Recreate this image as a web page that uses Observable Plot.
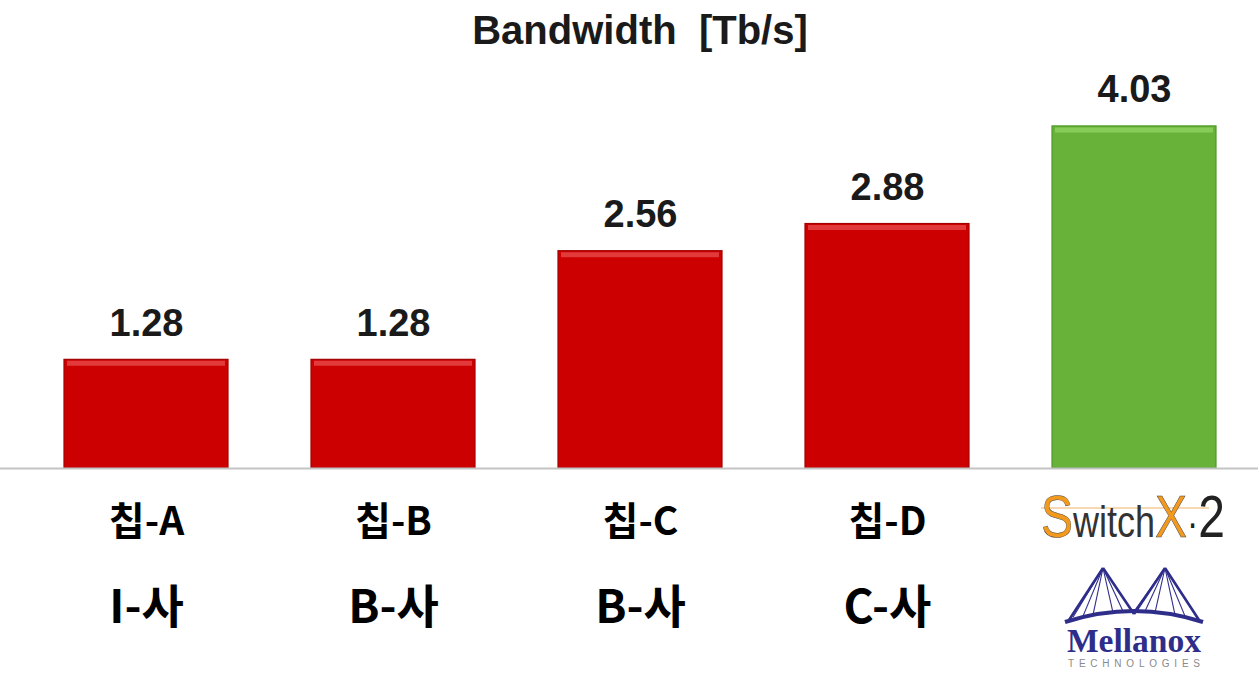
<!DOCTYPE html>
<html>
<head>
<meta charset="utf-8">
<script src="https://cdn.jsdelivr.net/npm/d3@7"></script>
<script src="https://cdn.jsdelivr.net/npm/@observablehq/plot@0.6"></script>
<style>
  body { margin: 0; background: #fff; }
  #wrap { position: relative; width: 1258px; height: 675px; overflow: hidden; background: #fff; }
  #title { height: 60px; box-sizing: border-box; padding-top: 10px; text-align: center;
           font-family: "Liberation Sans", Arial, sans-serif; font-weight: bold; font-size: 40px;
           line-height: 40px; color: #1a1a1a; padding-left: 22px; white-space: pre; }
  .ovl { position: absolute; overflow: visible; }
</style>
</head>
<body>
<div id="wrap">
  <div id="title">Bandwidth  [Tb/s]</div>
  <div id="chart"></div>
</div>
<script>
const chips = ["칩-A", "칩-B", "칩-C", "칩-D", "SwitchX-2"];
const vendors = ["I-사", "B-사", "B-사", "C-사", "Mellanox"];
const bandwidth = [1.28, 1.28, 2.56, 2.88, 4.03];
const valueLabels = ["1.28", "1.28", "2.56", "2.88", "4.03"];
const barColors = ["#cc0000", "#cc0000", "#cc0000", "#cc0000", "#68b23a"];
const barEdges = ["#a30000", "#a30000", "#a30000", "#a30000", "#4f9a2a"];
const barHighlights = ["#e23a3a", "#e23a3a", "#e23a3a", "#e23a3a", "#86cc58"];

const data = chips.map((c, i) => ({
  chip: c, vendor: vendors[i], value: bandwidth[i], label: valueLabels[i],
  fill: barColors[i], edge: barEdges[i], hi: barHighlights[i], korean: i < 4
}));
const kData = data.filter(d => d.korean);

const chart = Plot.plot({
  width: 1258,
  height: 615,
  marginLeft: 21,
  marginRight: 0,
  marginTop: 26,
  marginBottom: 207,
  x: { domain: chips, paddingInner: 0.337, paddingOuter: 0.1685, axis: null },
  y: { domain: [0, 4.5], axis: null },
  marks: [
    Plot.barY(data, { x: "chip", y: "value", fill: d => d.fill, stroke: d => d.edge, strokeWidth: 1.2 }),
    Plot.tickY(data, { x: "chip", y: "value", stroke: d => d.hi, strokeWidth: 5, dy: 3.5, inset: 3 }),
    Plot.ruleY([0], { stroke: "#c4c4c4", strokeWidth: 2, insetLeft: -21 }),
    Plot.text(data, { x: "chip", y: "value", text: "label", lineAnchor: "bottom", dy: -24,
      fontFamily: "Liberation Sans, Arial, sans-serif", fontWeight: "bold", fontSize: 38, fill: "#1a1a1a" }),
    Plot.text(kData, { x: "chip", text: "chip", frameAnchor: "bottom", lineAnchor: "bottom", dy: 66,
      fontFamily: "Noto Sans CJK KR, sans-serif", fontWeight: "bold", fontSize: 39, fill: "#000" }),
    Plot.text(kData, { x: "chip", text: "vendor", frameAnchor: "bottom", lineAnchor: "bottom", dy: 154,
      fontFamily: "Noto Sans CJK KR, sans-serif", fontWeight: "bold", fontSize: 46, fill: "#000" })
  ],
  style: { background: "transparent", overflow: "visible" }
});
document.getElementById("chart").appendChild(chart);

// Logos for the last category, positioned with the chart's x scale
const xs = chart.scale("x");
const cx = xs.apply(chips[4]) + xs.bandwidth / 2;
const wrap = document.getElementById("wrap");
const NS = "http://www.w3.org/2000/svg";

// SwitchX·2 word mark (single text run, horizontally condensed)
const sw = document.createElementNS(NS, "svg");
sw.setAttribute("class", "ovl");
sw.setAttribute("width", 200); sw.setAttribute("height", 70);
sw.style.left = (cx - 97) + "px"; sw.style.top = "480px";
sw.innerHTML = `
  <line x1="4" y1="28" x2="172" y2="28" stroke="#e8a040" stroke-width="0.8"/>
  <g transform="scale(0.8,1)">
  <text x="5" y="57" font-family="Liberation Sans, sans-serif" font-size="60"><tspan fill="#f39a1e" stroke="#444" stroke-width="0.5">S</tspan><tspan fill="#333" font-size="45">witch</tspan><tspan fill="#f39a1e" stroke="#444" stroke-width="0.5">X</tspan><tspan fill="#222" font-size="42">·</tspan><tspan fill="#222">2</tspan></text>
  </g>`;
wrap.appendChild(sw);

// Mellanox bridge logo + text
const ml = document.createElementNS(NS, "svg");
ml.setAttribute("class", "ovl");
ml.setAttribute("width", 150); ml.setAttribute("height", 110);
ml.style.left = (cx - 75) + "px"; ml.style.top = "562px";
const c = "#2e2d8a";
let cables = "";
[[44, 6], [106, 6]].forEach(([px, py]) => {
  [-30, -20, -10, 10, 20].forEach(o => {
    cables += `<line x1="${px}" y1="${py}" x2="${px + o}" y2="${48 + Math.abs(px + o - 75) * 0.12}" stroke="${c}" stroke-width="1.1"/>`;
  });
});
ml.innerHTML = `
  <path d="M44 6 L10 58 M44 6 L75 52 M106 6 L75 52 M106 6 L140 58" stroke="${c}" stroke-width="2.6" fill="none"/>
  ${cables}
  <path d="M6 60 Q75 38 144 60" stroke="${c}" stroke-width="4" fill="none"/>
  <text x="75" y="90" text-anchor="middle" font-family="Liberation Serif, serif" font-weight="bold"
        font-size="33" fill="${c}" textLength="134" lengthAdjust="spacingAndGlyphs">Mellanox</text>
  <text x="75" y="105" text-anchor="middle" font-family="Liberation Sans, sans-serif" font-size="10"
        fill="#8a8a8a" textLength="132" lengthAdjust="spacing">TECHNOLOGIES</text>`;
wrap.appendChild(ml);
</script>
</body>
</html>
